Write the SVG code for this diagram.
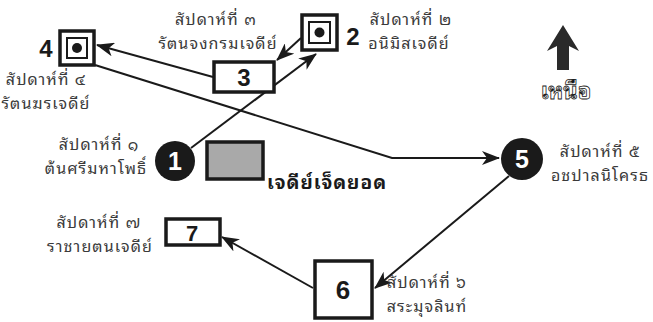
<svg xmlns="http://www.w3.org/2000/svg" width="653" height="322" viewBox="0 0 653 322">
<style>
.lbl{font-family:"Noto Sans Thai Looped","Noto Sans Thai","Noto Sans","DejaVu Sans",sans-serif;font-size:16px;letter-spacing:1.1px;fill:#3a3a3a;text-anchor:middle}
.num{font-family:"Liberation Sans",Arial,sans-serif;font-weight:bold;text-anchor:middle}
.box{fill:#fff;stroke:#1a1a1a;stroke-width:3.5}
.inner{fill:#fff;stroke:#1a1a1a;stroke-width:2}
.con{fill:none;stroke:#1a1a1a;stroke-width:2}
</style>
<defs>
<marker id="ah" markerWidth="18" markerHeight="14" refX="17" refY="7" orient="auto" markerUnits="userSpaceOnUse">
<path d="M0,0 L18,7 L0,14 L5,7 z" fill="#1a1a1a"/>
</marker>
</defs>
<rect width="653" height="322" fill="#fff"/>
<g id="connectors">
<line class="con" x1="191" y1="148" x2="316" y2="54" marker-end="url(#ah)"/>
<line class="con" x1="301" y1="38" x2="277" y2="60" marker-end="url(#ah)"/>
<line class="con" x1="213" y1="77" x2="97" y2="45" marker-end="url(#ah)"/>
<polyline class="con" points="95,65 392,158 499,158" marker-end="url(#ah)"/>
<line class="con" x1="509" y1="176" x2="375" y2="288" marker-end="url(#ah)"/>
<line class="con" x1="313" y1="288" x2="222" y2="237" marker-end="url(#ah)"/>
</g>
<g id="node4">
<rect class="box" x="60" y="31" width="34" height="34"/>
<rect class="inner" x="67" y="38" width="20" height="20"/>
<circle cx="77" cy="48" r="5" fill="#1a1a1a"/>
<text class="num" x="46" y="57" font-size="24" fill="#1a1a1a">4</text>
<text class="lbl" x="46" y="85">สัปดาห์ที่ ๔</text>
<text class="lbl" x="46" y="109">รัตนฆรเจดีย์</text>
</g>
<g id="node2">
<rect class="box" x="302" y="15" width="35" height="35"/>
<rect class="inner" x="309" y="22" width="21" height="21"/>
<circle cx="319.5" cy="32.5" r="5" fill="#1a1a1a"/>
<text class="num" x="353" y="45" font-size="24" fill="#1a1a1a">2</text>
<text class="lbl" x="411" y="25">สัปดาห์ที่ ๒</text>
<text class="lbl" x="409" y="49">อนิมิสเจดีย์</text>
</g>
<g id="node3">
<rect class="box" x="214" y="62" width="60" height="30"/>
<text class="num" x="244" y="86" font-size="24" fill="#1a1a1a">3</text>
<text class="lbl" x="216" y="25">สัปดาห์ที่ ๓</text>
<text class="lbl" x="218" y="49">รัตนจงกรมเจดีย์</text>
</g>
<g id="node1">
<circle cx="175" cy="161" r="20" fill="#1a1a1a"/>
<text class="num" x="175" y="170" font-size="25" fill="#fff">1</text>
<text class="lbl" x="99" y="150">สัปดาห์ที่ ๑</text>
<text class="lbl" x="96" y="174">ต้นศรีมหาโพธิ์</text>
</g>
<g id="chedi">
<rect x="207" y="142" width="56" height="37" fill="#a9a9a9" stroke="#1a1a1a" stroke-width="3.5"/>
<text x="267" y="189" font-family="'Noto Sans Thai Looped','Noto Sans Thai','Noto Sans',sans-serif" font-size="19" letter-spacing="1" font-weight="bold" fill="#1a1a1a">เจดีย์เจ็ดยอด</text>
</g>
<g id="node5">
<circle cx="522" cy="159" r="21" fill="#1a1a1a"/>
<text class="num" x="522" y="168" font-size="25" fill="#fff">5</text>
<text class="lbl" x="600" y="157">สัปดาห์ที่ ๕</text>
<text class="lbl" x="600" y="181">อชปาลนิโครธ</text>
</g>
<g id="node6">
<rect class="box" x="315" y="261" width="57" height="57"/>
<text class="num" x="343" y="299" font-size="26" fill="#1a1a1a">6</text>
<text class="lbl" x="427" y="288">สัปดาห์ที่ ๖</text>
<text class="lbl" x="427" y="312">สระมุจลินท์</text>
</g>
<g id="node7">
<rect class="box" x="166" y="219" width="54" height="26"/>
<text class="num" x="192" y="241" font-size="22" fill="#1a1a1a">7</text>
<text class="lbl" x="99" y="228">สัปดาห์ที่ ๗</text>
<text class="lbl" x="100" y="252">ราชายตนเจดีย์</text>
</g>
<g id="north">
<polygon points="563,25 579,51 569,46 569,70 557,70 557,46 547,51" fill="#2a2a2a"/>
<text x="566" y="99" font-family="'Noto Sans Thai Looped','Noto Sans Thai','Noto Sans',sans-serif" font-size="22" font-weight="bold" fill="#fff" stroke="#1a1a1a" stroke-width="0.8" text-anchor="middle">เหนือ</text>
</g>
</svg>
